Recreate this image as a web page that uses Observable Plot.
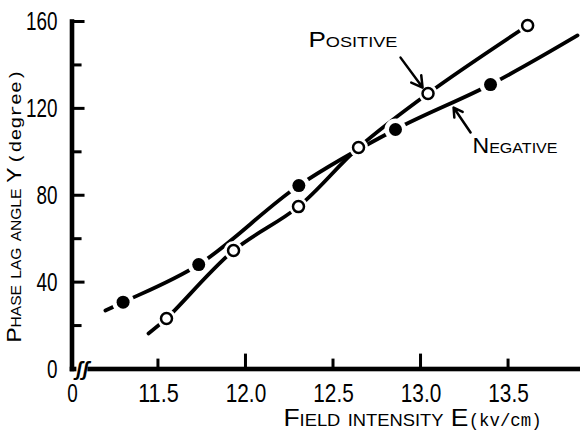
<!DOCTYPE html>
<html><head><meta charset="utf-8">
<script src="https://cdn.jsdelivr.net/npm/d3@7"></script>
<script src="https://cdn.jsdelivr.net/npm/@observablehq/plot@0.6"></script>
<style>body{margin:0;background:#fff} svg{display:block}</style>
</head><body><div id="chart"></div>
<script>
// ---- data ----
const negX = [11.298, 11.730, 12.302, 12.854, 13.397];
const negY = [31.0, 48.3, 84.7, 110.5, 131.2];
const posX = [11.546, 11.929, 12.300, 12.643, 13.040, 13.609];
const posY = [23.5, 54.8, 75.0, 102.2, 127.1, 158.4];
// hand-drawn curve ends beyond the markers
const negCurveStart = [11.197, 27.2], negCurveEnd = [13.894, 153.8];
const posCurveStart = [11.443, 16.6];

const xTickValues = [11.009, 11.5, 12.0, 12.5, 13.0, 13.5];
const xTickLabels = ["0", "11.5", "12.0", "12.5", "13.0", "13.5"];
const xMajorTicks = [12.0, 13.0];
const xMinorTicks = [11.5, 12.5, 13.5];
const yTickValues = [0, 40, 80, 120, 160];
const yMinorTicks = [20, 60, 100, 140];
const X_MIN = 11.009, X_MAX = 13.911, Y_MAX = 160;
// inward tick lengths, in data units
const yTickLenMajor = 0.063, yTickLenMinor = 0.046;   // along x
const xTickLenMajor = 6.4, xTickLenMinor = 4.1;       // along y

const seriesNames = ["Positive", "Negative"];
const labelPos = {x: 12.611, y: 151.6};
const labelNeg = {x: 13.537, y: 102.8};
const arrowPos = {x1: 12.883, y1: 143.6, x2: 13.009, y2: 129.8};
const arrowNeg = {x1: 13.283, y1: 109.1, x2: 13.186, y2: 120.6};
const xTitle = "Field intensity E", xUnit = "(kv/cm)";
const yTitle = "Phase lag angle Y", yUnit = "(degree)";
const xTitleAnchor = {x: 12.214, y: -25.8}, xUnitAnchor = {x: 13.272, y: -25.8};
const yTitleAnchor = {x: 10.717, y: 12.4}, yUnitAnchor = {x: 10.717, y: 94.5};
const breakX = [11.034, 11.097], breakMid = 11.066;

const neg = negX.map((x, i) => ({x, y: negY[i]}));
const pos = posX.map((x, i) => ({x, y: posY[i]}));
const negCurve = [{x: negCurveStart[0], y: negCurveStart[1]}, ...neg, {x: negCurveEnd[0], y: negCurveEnd[1]}];
const posCurve = [{x: posCurveStart[0], y: posCurveStart[1]}, ...pos];

// axis bars and inward ticks as filled bars, built from the tick arrays
const vBar = (x1, x2, y1, y2) => ({x1, x2, y1, y2});
const axisBars = [vBar(X_MIN, X_MIN, 0, Y_MAX), vBar(X_MIN, X_MAX, 0, 0)];
const yTickBars = [
  ...yTickValues.map(v => vBar(X_MIN, X_MIN + yTickLenMajor, v, v)),
  ...yMinorTicks.map(v => vBar(X_MIN, X_MIN + yTickLenMinor, v, v))
];
const xTickBars = [
  ...xMajorTicks.map(v => vBar(v, v, 0, xTickLenMajor)),
  ...xMinorTicks.map(v => vBar(v, v, 0, xTickLenMinor))
];
const breakBar = [vBar(breakX[0], breakX[1], 0, 0)];

const FONT = "'Liberation Sans', Arimo, 'DejaVu Sans', sans-serif";
const MONO = "'Liberation Mono', 'DejaVu Sans Mono', monospace";
const bar = (data, t, extra = {}) => Plot.rect(data, {x1: "x1", x2: "x2", y1: "y1", y2: "y2",
  insetLeft: -t, insetRight: -t, insetTop: -t, insetBottom: -t, fill: "#000", ...extra});

const svg = Plot.plot({
  width: 580, height: 433,
  marginLeft: 72, marginRight: 0, marginTop: 21.5, marginBottom: 64,
  x: {domain: [X_MIN, X_MAX]},
  y: {domain: [0, 160]},
  style: {fontFamily: FONT, fontSize: "25px", background: "#fff", color: "#000", overflow: "visible"},
  marks: [
    // curves
    Plot.line(negCurve, {x: "x", y: "y", curve: "catmull-rom", stroke: "#000", strokeWidth: 3.8}),
    Plot.line(posCurve, {x: "x", y: "y", curve: "catmull-rom", stroke: "#000", strokeWidth: 3.8}),
    // white gaps around markers
    Plot.dot(neg, {x: "x", y: "y", r: 11, fill: "#fff"}),
    Plot.dot(pos, {x: "x", y: "y", r: 9.5, fill: "#fff"}),
    Plot.dot(neg, {x: "x", y: "y", r: 6.5, fill: "#000"}),
    Plot.dot(pos, {x: "x", y: "y", r: 5.5, fill: "#fff", stroke: "#000", strokeWidth: 2.5}),
    // axes, inward ticks, axis break (filled bars)
    bar(axisBars, 2.3),
    bar(yTickBars, 1.5),
    bar(xTickBars, 1.5),
    bar(breakBar, 0, {insetTop: -5, insetBottom: -5, fill: "#fff"}),
    Plot.text([0], {x: breakMid, y: d => d, text: () => "ʃʃ", fontSize: 20, fontStyle: "italic", fontWeight: "bold", fontFamily: FONT}),
    // tick labels
    Plot.axisX({ticks: xTickValues, tickFormat: d => xTickLabels[xTickValues.indexOf(d)], tickSize: 0, tickPadding: 15, fontSize: 25, label: null}),
    Plot.axisY({ticks: yTickValues, tickFormat: d => String(d), tickSize: 0, tickPadding: 15, fontSize: 25, label: null}),
    // series labels and arrows
    Plot.text([labelPos], {x: "x", y: "y", text: () => seriesNames[0], fontSize: 21.5, fontVariant: "small-caps", fontFamily: FONT}),
    Plot.text([labelNeg], {x: "x", y: "y", text: () => seriesNames[1], fontSize: 21.5, fontVariant: "small-caps", fontFamily: FONT}),
    Plot.arrow([arrowPos], {x1: "x1", y1: "y1", x2: "x2", y2: "y2", stroke: "#000", strokeWidth: 2.5, headLength: 10}),
    Plot.arrow([arrowNeg], {x1: "x1", y1: "y1", x2: "x2", y2: "y2", stroke: "#000", strokeWidth: 2.5, headLength: 10}),
    // axis titles
    Plot.text([xTitleAnchor], {x: "x", y: "y", text: () => xTitle, textAnchor: "start", lineAnchor: "bottom", fontSize: 24.5, fontVariant: "small-caps", fontFamily: FONT}),
    Plot.text([xUnitAnchor], {x: "x", y: "y", text: () => xUnit, textAnchor: "start", lineAnchor: "bottom", fontSize: 19, fontFamily: MONO}),
    Plot.text([yTitleAnchor], {x: "x", y: "y", text: () => yTitle, textAnchor: "start", lineAnchor: "bottom", rotate: -90, fontSize: 20.5, fontVariant: "small-caps", fontFamily: FONT}),
    Plot.text([yUnitAnchor], {x: "x", y: "y", text: () => yUnit, textAnchor: "start", lineAnchor: "bottom", rotate: -90, fontSize: 17, fontFamily: MONO})
  ]
});

// condense glyphs to match the narrow typeface of the original
const lengths = {"Positive": 89, "Negative": 85, [xTitle]: 185, [xUnit]: 73, [yTitle]: 175, [yUnit]: 95};
d3.select(svg).selectAll("text").each(function() {
  const t = this.textContent;
  let L = null;
  if (lengths[t] != null) L = lengths[t];
  else if (/^[0-9.]+$/.test(t)) L = [...t].reduce((s, c) => s + (c === "." ? 9 : 10.5), 0);
  if (L != null) { this.setAttribute("textLength", L); this.setAttribute("lengthAdjust", "spacingAndGlyphs"); }
});
document.getElementById("chart").appendChild(svg);
</script>
</body></html>
